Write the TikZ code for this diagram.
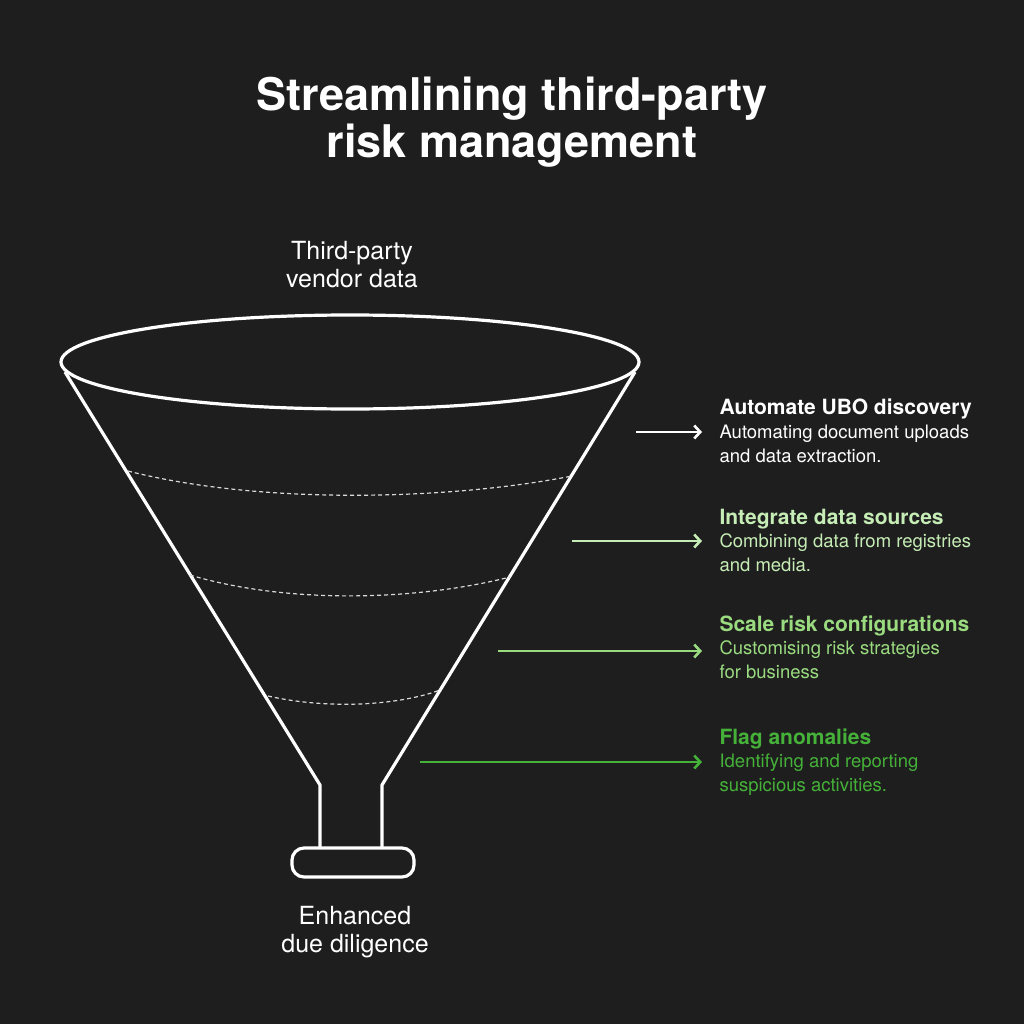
\documentclass[tikz,border=0pt]{standalone}
\usepackage{fontspec}
\setmainfont{TeX Gyre Heros}
\usetikzlibrary{arrows.meta}
\begin{document}
\begin{tikzpicture}[x=1pt,y=-1pt,
  fl/.style={draw=white,line width=3.2pt,line join=round},
  dsh/.style={draw=white!85!black,line width=1.2pt,dash pattern=on 4pt off 3pt},
  arr/.style={line width=2.6pt,-{Straight Barb[length=6pt,width=13pt,line width=2.6pt]}},
  hd/.style={anchor=west,font=\fontsize{21}{24}\selectfont\bfseries},
  ds/.style={anchor=north west,align=left,font=\fontsize{18.5}{24}\selectfont}]
\definecolor{bg}{HTML}{1E1E1E}
\definecolor{gA}{HTML}{C6EDB5}
\definecolor{gB}{HTML}{9ADB80}
\definecolor{gC}{HTML}{45B139}
\fill[bg] (0,0) rectangle (1024,1024);
\useasboundingbox (0,0) rectangle (1024,1024);
\node[white,align=center,font=\fontsize{45}{47}\selectfont\bfseries] (title) at (512,122) {Streamlining third-party\\risk management};
\node[white,align=center,font=\fontsize{25}{28}\selectfont] (top) at (352,265) {Third-party\\vendor data};
\node[white,align=center,font=\fontsize{25}{28}\selectfont] (bot) at (355,932) {Enhanced\\due diligence};
\draw[fl] (350,362) ellipse [x radius=289, y radius=47];
\draw[fl] (65,372) -- (320,785) -- (320,848);
\draw[fl] (635,372) -- (382,785) -- (382,848);
\draw[fl,rounded corners=12pt] (292,848) rectangle (414,877);
\draw[dsh] (128,471) .. controls (260,505) and (450,500) .. (572,476);
\draw[dsh] (190,575) .. controls (290,605) and (420,600) .. (510,577);
\draw[dsh] (268,696) .. controls (330,710) and (400,705) .. (440,690);
\coordinate (a1) at (636,432); \coordinate (b1) at (702,432);
\coordinate (a2) at (572,541); \coordinate (b2) at (702,541);
\coordinate (a3) at (498,651); \coordinate (b3) at (702,651);
\coordinate (a4) at (420,762); \coordinate (b4) at (702,762);
\draw[arr,white] (a1) -- (b1);
\draw[arr,gA] (a2) -- (b2);
\draw[arr,gB] (a3) -- (b3);
\draw[arr,gC] (a4) -- (b4);
\node[hd,white] (h1) at (716,409) {Automate UBO discovery};
\node[ds,white] (d1) at (716,421) {Automating document uploads\\and data extraction.};
\node[hd,gA] (h2) at (716,519) {Integrate data sources};
\node[ds,gA] (d2) at (716,530) {Combining data from registries\\and media.};
\node[hd,gB] (h3) at (716,626) {Scale risk configurations};
\node[ds,gB] (d3) at (716,637) {Customising risk strategies\\for business};
\node[hd,gC] (h4) at (716,739) {Flag anomalies};
\node[ds,gC] (d4) at (716,750) {Identifying and reporting\\suspicious activities.};
\end{tikzpicture}
\end{document}
